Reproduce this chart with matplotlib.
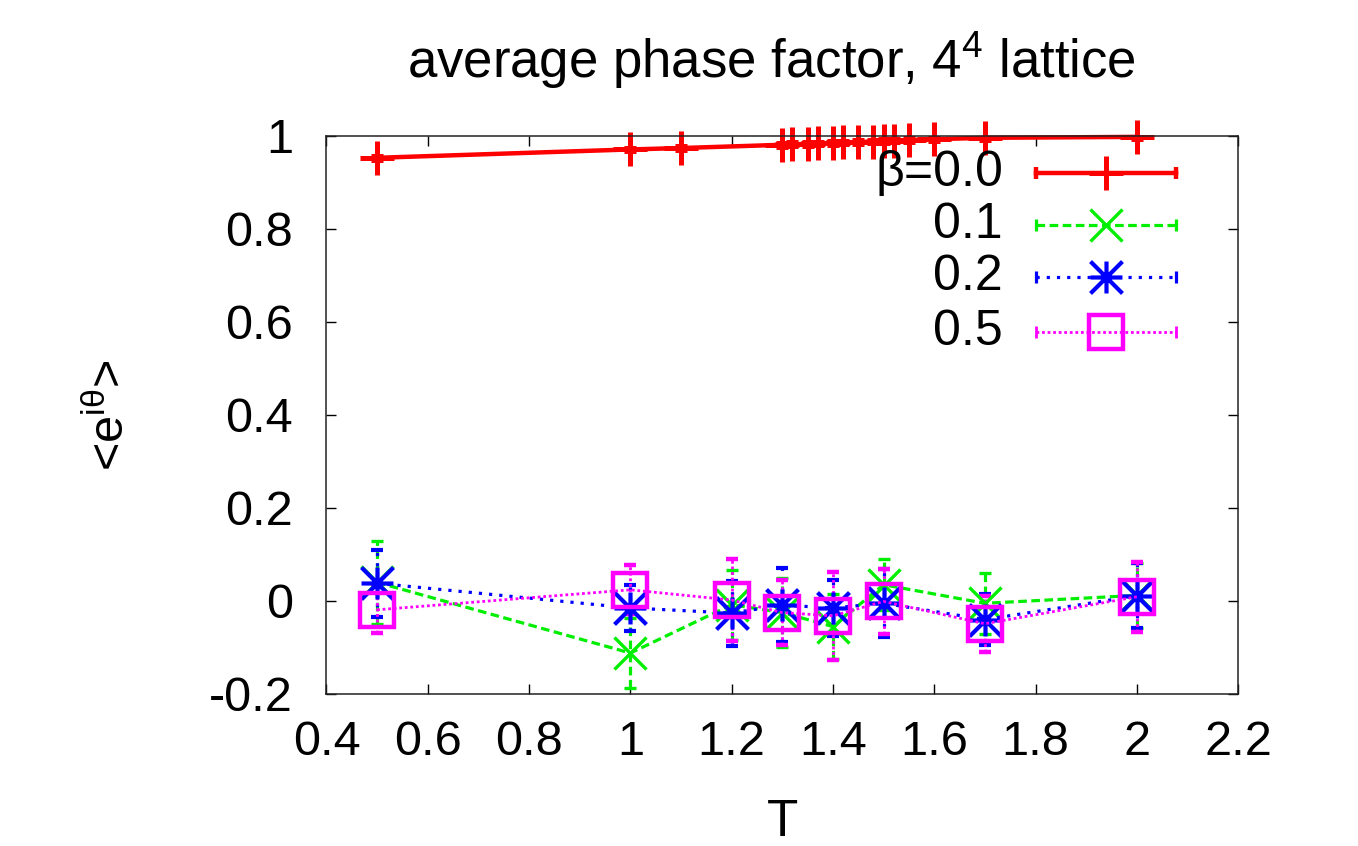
import matplotlib
matplotlib.use("Agg")
import matplotlib.pyplot as plt
from matplotlib.path import Path

plt.rcParams['font.family'] = ['Liberation Sans', 'DejaVu Sans']
plt.rcParams['mathtext.fontset'] = 'custom'
plt.rcParams['mathtext.rm'] = 'Liberation Sans'
plt.rcParams['mathtext.it'] = 'Liberation Sans:italic'

# beta = 0.0, with the dense scan between 1.3 and 1.6
T_b00 = [0.5, 1.0, 1.1, 1.3, 1.32, 1.35, 1.37, 1.4, 1.42, 1.45, 1.48, 1.5,
         1.52, 1.55, 1.6, 1.7, 2.0]
phase_b00 = [0.953, 0.971, 0.974, 0.981, 0.982, 0.983, 0.984, 0.985, 0.986,
             0.987, 0.988, 0.989, 0.990, 0.991, 0.993, 0.996, 0.998]
err_b00 = [0.004] * len(T_b00)

# beta = 0.1, 0.2, 0.5 share the same temperatures
T_common = [0.5, 1.0, 1.2, 1.3, 1.4, 1.5, 1.7, 2.0]
phase_b01 = [0.040, -0.112, -0.008, -0.025, -0.055, 0.035, -0.005, 0.012]
err_b01 = [0.090, 0.075, 0.075, 0.075, 0.070, 0.055, 0.065, 0.070]
phase_b02 = [0.038, -0.015, -0.026, -0.009, -0.015, -0.005, -0.040, 0.011]
err_b02 = [0.072, 0.050, 0.070, 0.080, 0.060, 0.073, 0.055, 0.070]
phase_b05 = [-0.019, 0.024, 0.002, -0.025, -0.032, -0.001, -0.049, 0.009]
err_b05 = [0.050, 0.053, 0.088, 0.070, 0.095, 0.070, 0.060, 0.075]

labels = ["β=0.0", "0.1", "0.2", "0.5"]
xticks = [0.4, 0.6, 0.8, 1.0, 1.2, 1.4, 1.6, 1.8, 2.0, 2.2]
xticklabels = ["0.4", "0.6", "0.8", "1", "1.2", "1.4", "1.6", "1.8", "2", "2.2"]
yticks = [-0.2, 0.0, 0.2, 0.4, 0.6, 0.8, 1.0]
yticklabels = ["-0.2", "0", "0.2", "0.4", "0.6", "0.8", "1"]

# gnuplot style asterisk: a plus and a cross of the same size
asterisk = Path([(-1, 0), (1, 0), (0, -1), (0, 1), (-1, -1), (1, 1), (-1, 1), (1, -1)],
                [Path.MOVETO, Path.LINETO] * 4)

styles = [
    dict(color='#ff0000', ls='-', lw=3.2, marker='+', ms=24, mew=3.6),
    dict(color='#00ee00', ls=(0, (2.7, 1.4)), lw=2.3, marker='x', ms=23, mew=2.4),
    dict(color='#0000ff', ls=(0, (1, 2.2)), lw=2.3, marker=asterisk, ms=23, mew=3.0),
    dict(color='#ff00ff', ls=(0, (1, 1.0)), lw=2.0, marker='s', ms=25, mew=3.2),
]
series = [
    (T_b00, phase_b00, err_b00),
    (T_common, phase_b01, err_b01),
    (T_common, phase_b02, err_b02),
    (T_common, phase_b05, err_b05),
]

fig = plt.figure(figsize=(13.58, 8.46), dpi=100)
ax = fig.add_axes([0.2404, 0.1797, 0.6713, 0.6596])

for (x, y, e), st in zip(series, styles):
    eb = ax.errorbar(x, y, yerr=e, color=st['color'], ls=st['ls'], lw=st['lw'],
                     marker=st['marker'], ms=st['ms'], mew=st['mew'], mfc='none',
                     elinewidth=st['lw'], capsize=4, capthick=st['lw'])
    eb[2][0].set_linestyle(st['ls'])
    eb[0].set_clip_on(False)

# legend drawn by hand: right aligned text, then the sample
x_txt, x0, xm, x1 = 0.742, 0.778, 0.855, 0.932
y_rows = [0.933, 0.840, 0.748, 0.649]
for lab, st, yr in zip(labels, styles, y_rows):
    ax.text(x_txt, yr, lab, transform=ax.transAxes, ha='right', va='center',
            fontsize=36)
    ax.plot([x0, x1], [yr, yr], transform=ax.transAxes, color=st['color'],
            ls=st['ls'], lw=st['lw'], clip_on=False)
    ax.plot([x0, x1], [yr, yr], transform=ax.transAxes, color=st['color'],
            ls='none', marker='|', ms=8, mew=st['lw'], clip_on=False)
    ax.plot([xm], [yr], transform=ax.transAxes, color=st['color'], ls='none',
            marker=st['marker'], ms=st['ms'], mew=st['mew'], mfc='none',
            clip_on=False)

ax.set_xlim(0.4, 2.2)
ax.set_ylim(-0.2, 1.0)
ax.set_xticks(xticks)
ax.set_xticklabels(xticklabels, fontsize=35)
ax.set_yticks(yticks)
ax.set_yticklabels(yticklabels, fontsize=35)
ax.tick_params(direction='in', length=7, width=1, top=True, right=True)
ax.tick_params(axis='x', pad=19)
ax.tick_params(axis='y', pad=24)
for sp in ax.spines.values():
    sp.set_linewidth(1.1)
    sp.set_color('#222222')

ax.set_xlabel('T', fontsize=37)
ax.xaxis.set_label_coords(0.5, -0.186)
ax.set_ylabel(r'<e$^{\mathregular{iθ}}$>', fontsize=35)
ax.yaxis.set_label_coords(-0.211, 0.5)

fig.text(771 / 1358, 1 - 78 / 846, r'average phase factor, $\mathregular{4^4}$ lattice',
         ha='center', va='baseline', fontsize=38)

fig.savefig('out.png', dpi=100)
